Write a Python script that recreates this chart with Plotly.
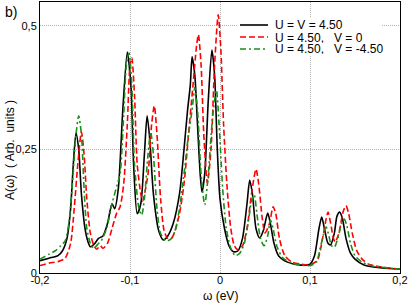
import plotly.graph_objects as go

# ---- data ----
w_black = [-0.2, -0.19, -0.18, -0.175, -0.17, -0.166, -0.163, -0.16, -0.157, -0.154, -0.15, -0.147, -0.144,
           -0.139, -0.135, -0.13, -0.125, -0.12, -0.117, -0.113, -0.108, -0.103, -0.099, -0.096, -0.092,
           -0.088, -0.084, -0.081, -0.078, -0.074, -0.068, -0.063, -0.058, -0.052, -0.045, -0.04, -0.036,
           -0.033, -0.031, -0.028, -0.025, -0.022, -0.02, -0.017, -0.013, -0.009, -0.006, -0.003, 0.0,
           0.005, 0.01, 0.015, 0.02, 0.025, 0.03, 0.033, 0.036, 0.04, 0.044, 0.048, 0.053, 0.056, 0.06,
           0.065, 0.075, 0.09, 0.1, 0.105, 0.11, 0.113, 0.116, 0.12, 0.123, 0.127, 0.13, 0.133, 0.136,
           0.14, 0.145, 0.15, 0.16, 0.18, 0.2]
a_black = [0.025, 0.03, 0.035, 0.045, 0.07, 0.13, 0.22, 0.283, 0.25, 0.16, 0.09, 0.065, 0.053,
           0.06, 0.07, 0.075, 0.1, 0.14, 0.13, 0.17, 0.33, 0.447, 0.38, 0.22, 0.12,
           0.14, 0.24, 0.318, 0.27, 0.16, 0.085, 0.067, 0.075, 0.1, 0.16, 0.25, 0.33,
           0.38, 0.437, 0.4, 0.3, 0.2, 0.164, 0.2, 0.35, 0.451, 0.4, 0.25, 0.15,
           0.09, 0.055, 0.043, 0.045, 0.07, 0.14, 0.188, 0.16, 0.09, 0.071, 0.085, 0.121, 0.1, 0.06,
           0.035, 0.022, 0.016, 0.018, 0.035, 0.09, 0.113, 0.09, 0.06, 0.057, 0.08, 0.115, 0.123, 0.11,
           0.07, 0.04, 0.028, 0.016, 0.01, 0.008]

w_red = [-0.2, -0.19, -0.18, -0.172, -0.166, -0.162, -0.158, -0.154, -0.151, -0.148, -0.144, -0.14,
         -0.137, -0.133, -0.13, -0.125, -0.12, -0.115, -0.111, -0.107, -0.103, -0.1, -0.098, -0.095,
         -0.092, -0.088, -0.086, -0.08, -0.076, -0.073, -0.07, -0.066, -0.062, -0.058, -0.054, -0.05,
         -0.045, -0.04, -0.035, -0.03, -0.026, -0.024, -0.021, -0.018, -0.014, -0.01, -0.006, -0.002,
         0.001, 0.004, 0.008, 0.012, 0.016, 0.02, 0.025, 0.03, 0.035, 0.04, 0.043, 0.047, 0.05, 0.055,
         0.059, 0.062, 0.066, 0.072, 0.08, 0.09, 0.1, 0.108, 0.114, 0.118, 0.12, 0.123, 0.126, 0.128,
         0.132, 0.137, 0.14, 0.143, 0.147, 0.152, 0.158, 0.165, 0.18, 0.2]
a_red = [0.015, 0.02, 0.023, 0.03, 0.06, 0.13, 0.22, 0.285, 0.24, 0.15, 0.08, 0.055,
         0.048, 0.055, 0.05, 0.06, 0.09, 0.12, 0.134, 0.18, 0.3, 0.42, 0.435, 0.36,
         0.22, 0.16, 0.145, 0.2, 0.3, 0.338, 0.28, 0.15, 0.085, 0.07, 0.07, 0.085,
         0.12, 0.18, 0.28, 0.38, 0.46, 0.482, 0.42, 0.28, 0.182, 0.25, 0.42, 0.522,
         0.45, 0.3, 0.17, 0.09, 0.055, 0.047, 0.055, 0.09, 0.16, 0.21, 0.18, 0.11, 0.081, 0.1,
         0.134, 0.12, 0.07, 0.035, 0.022, 0.018, 0.017, 0.025, 0.07, 0.11, 0.123, 0.1, 0.07, 0.063,
         0.08, 0.125, 0.136, 0.12, 0.08, 0.045, 0.028, 0.018, 0.012, 0.008]

w_green = [-0.2, -0.19, -0.183, -0.177, -0.172, -0.168, -0.164, -0.16, -0.157, -0.154, -0.151, -0.148,
           -0.144, -0.14, -0.136, -0.132, -0.126, -0.12, -0.114, -0.111, -0.107, -0.104, -0.101, -0.098,
           -0.095, -0.09, -0.087, -0.084, -0.08, -0.077, -0.074, -0.07, -0.066, -0.06, -0.055, -0.05,
           -0.045, -0.04, -0.035, -0.031, -0.028, -0.025, -0.021, -0.017, -0.013, -0.008, -0.004, -0.001,
           0.003, 0.007, 0.012, 0.017, 0.022, 0.027, 0.032, 0.035, 0.038, 0.041, 0.045, 0.049, 0.053,
           0.056, 0.059, 0.063, 0.07, 0.08, 0.09, 0.1, 0.107, 0.112, 0.116, 0.118, 0.121, 0.124, 0.127,
           0.131, 0.135, 0.138, 0.141, 0.145, 0.15, 0.158, 0.17, 0.2]
a_green = [0.028, 0.038, 0.045, 0.055, 0.065, 0.1, 0.18, 0.28, 0.318, 0.28, 0.17, 0.09,
           0.06, 0.05, 0.058, 0.065, 0.09, 0.14, 0.18, 0.2, 0.32, 0.42, 0.445, 0.38,
           0.22, 0.13, 0.117, 0.15, 0.24, 0.285, 0.24, 0.13, 0.08, 0.065, 0.068, 0.085,
           0.13, 0.2, 0.28, 0.33, 0.375, 0.33, 0.2, 0.138, 0.2, 0.32, 0.37, 0.3,
           0.17, 0.09, 0.05, 0.035, 0.04, 0.06, 0.11, 0.145, 0.158, 0.12, 0.07, 0.055, 0.075,
           0.107, 0.09, 0.055, 0.03, 0.02, 0.016, 0.015, 0.022, 0.055, 0.085, 0.093, 0.075, 0.055, 0.052,
           0.07, 0.1, 0.109, 0.095, 0.06, 0.035, 0.022, 0.014, 0.008]

series_names = ["U = V = 4.50",
                "U = 4.50,\u00a0\u00a0\u00a0V = 0",
                "U = 4.50,\u00a0\u00a0\u00a0V = -4.50"]
x_tickvals = [-0.2, -0.1, 0.0, 0.1, 0.2]
x_ticktext = ["-0,2", "-0,1", "0", "0,1", "0,2"]
y_tickvals = [0, 0.25, 0.5]
y_ticktext = ["0", "0,25", "0,5"]

# ---- layout geometry ----
W, H = 409, 304
L, R, T, B = 40, 9, 2, 31
PW, PH = W - L - R, H - T - B

def px(x):
    return (x - L) / PW

def py(y):
    return (H - B - y) / PH

FONT = "Liberation Sans, Arial, sans-serif"
colors = ["#000000", "#ff0000", "#1a8f1a"]
dashes = ["solid", "6px,3px", "6px,3px,2px,3px"]

fig = go.Figure()
for w, a, c, d, n in [(w_black, a_black, colors[0], dashes[0], series_names[0]),
                      (w_red, a_red, colors[1], dashes[1], series_names[1]),
                      (w_green, a_green, colors[2], dashes[2], series_names[2])]:
    fig.add_trace(go.Scatter(x=w, y=a, mode="lines", name=n, hoverinfo="skip",
                             line=dict(color=c, width=1.6, dash=d, shape="spline", smoothing=0.7)))

fig.update_layout(
    width=W, height=H, showlegend=False,
    margin=dict(l=L, r=R, t=T, b=B),
    paper_bgcolor="white", plot_bgcolor="white",
    font=dict(family=FONT, size=11, color="black"),
)
grid = dict(showgrid=True, gridcolor="#b0b0b0", griddash="1px,1px", gridwidth=1)
fig.update_xaxes(range=[-0.2, 0.2], tickvals=x_tickvals, ticktext=x_ticktext,
                 showline=True, mirror=True, linecolor="black", linewidth=1,
                 zeroline=False, ticks="", tickfont=dict(size=11), ticklabelstandoff=-3, **grid)
fig.update_yaxes(range=[0, 0.548], tickvals=y_tickvals, ticktext=y_ticktext,
                 showline=True, mirror=True, linecolor="black", linewidth=1,
                 zeroline=False, ticks="", tickfont=dict(size=11), **grid)

ann = []
ann.append(dict(text="b)", xref="paper", yref="paper", x=px(3), y=py(12), xanchor="left",
                yanchor="middle", showarrow=False, font=dict(size=14)))
ann.append(dict(text="ω (eV)", xref="paper", yref="paper", x=px(220), y=py(296), xanchor="center",
                yanchor="middle", showarrow=False, font=dict(size=12)))
ann.append(dict(text="A(ω)\u00a0\u00a0( Arb.\u00a0\u00a0units )", xref="paper", yref="paper",
                x=px(10), y=py(150), xanchor="center", yanchor="middle", textangle=-90,
                showarrow=False, font=dict(size=12)))

shapes = [dict(type="rect", xref="paper", yref="paper", x0=px(237), x1=px(382), y0=py(17), y1=py(56),
               fillcolor="white", line=dict(width=0), layer="above")]
rows = [25, 37, 49]
for i, yy in enumerate(rows):
    shapes.append(dict(type="line", xref="paper", yref="paper", x0=px(240), x1=px(268),
                       y0=py(yy), y1=py(yy), line=dict(color=colors[i], width=1.6, dash=dashes[i]),
                       layer="above"))
    ann.append(dict(text=series_names[i], xref="paper", yref="paper", x=px(274), y=py(yy),
                    xanchor="left", yanchor="middle", showarrow=False, height=11, borderpad=0,
                    font=dict(size=12)))

fig.update_layout(annotations=ann, shapes=shapes)
fig.write_html("out.html", config={"displayModeBar": False},
               post_script="document.body.style.margin='0';document.body.style.padding='0';")
